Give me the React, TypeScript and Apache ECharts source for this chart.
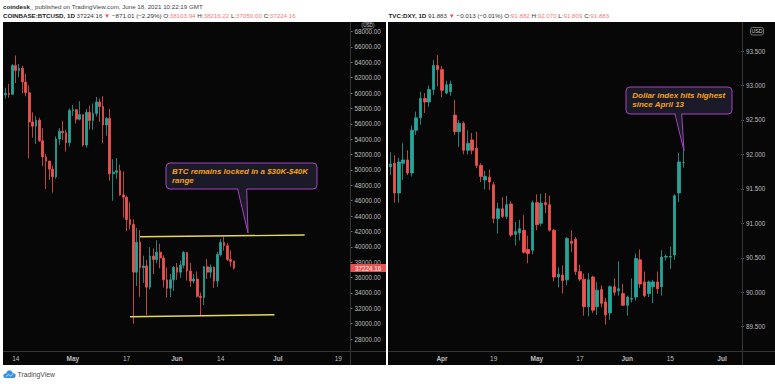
import React, { useEffect, useRef } from 'react';
import * as echarts from 'echarts';

const FONT = 'Liberation Sans, Arial, Helvetica, sans-serif';

// ---------- BTC (COINBASE:BTCUSD, 1D) Apr 11 .. Jun 18, 2021 ----------
const btcStart = '2021-04-11';
const btcOpen = [
  59770, 59970, 59840, 63580, 62950, 63230, 61450, 60050, 56250, 55700, 56480, 53800, 51700, 51150, 50100, 49100, 54030, 55040, 54850, 53570,
  57750, 57830, 56600, 57200, 53240, 57500, 56420, 57350, 58850, 58250, 55850, 56700, 49500, 49700, 49900, 46750, 46450, 43550, 42900, 36700,
  40600, 37300, 37500, 34750, 38800, 38350, 39300, 38550, 35700, 34600, 35700,
  37300, 36700, 37600, 39250, 36850, 35550, 35800, 33550, 33400, 37400, 36700, 37350, 35550, 39000, 40550, 40150, 38350, 38103.94,
];
const btcHigh = [
  60700, 61200, 63770, 64895, 63800, 63560, 62500, 61000, 57500, 57000, 56800, 55450, 52100, 51180, 50550, 54350, 55450, 56400, 55200, 58000,
  58450, 57900, 58950, 57200, 57950, 58360, 58650, 59500, 59300, 59600, 56900, 57950, 51400, 51550, 50700, 49800, 46650, 45800, 43550, 42450,
  42200, 38850, 38300, 39950, 39800, 40850, 40400, 38900, 37300, 36450, 37500,
  37900, 38200, 39450, 39300, 37900, 36450, 36800, 34050, 37500, 38400, 37700, 37450, 39350, 41000, 41300, 40500, 39550, 38216.22,
];
const btcLow = [
  59300, 59400, 59840, 61300, 62050, 60000, 59600, 51500, 54200, 53400, 53650, 50500, 47500, 48700, 47050, 48850, 53300, 53900, 52400, 53050,
  57050, 56050, 56450, 53050, 52900, 55250, 55250, 56950, 56250, 53500, 54450, 48600, 46000, 48850, 46650, 43800, 42050, 42250, 30000, 34900,
  33500, 35300, 31100, 34450, 36450, 37850, 37200, 34700, 33400, 33450, 34250,
  35700, 35950, 37200, 35600, 34800, 35250, 33400, 31000, 32400, 35800, 35950, 34650, 34800, 38750, 39500, 38150, 37400, 37050.0,
];
const btcClose = [
  59970, 59840, 63580, 62950, 63230, 61450, 60050, 56250, 55700, 56480, 53800, 51700, 51150, 50100, 49100, 54030, 55040, 54850, 53570, 57750,
  57830, 56600, 57200, 53240, 57500, 56420, 57350, 58850, 58250, 55850, 56700, 49500, 49700, 49900, 46750, 46450, 43550, 42900, 36700, 40600,
  37300, 37500, 34750, 38800, 38350, 39300, 38550, 35700, 34600, 35700, 37300,
  36700, 37600, 39250, 36850, 35550, 35800, 33550, 33400, 37400, 36700, 37350, 35550, 39000, 40550, 40150, 38350, 38100, 37224.16,
];
const btcTimeLabels: Record<string, string> = {
  '2021-04-14': '14', '2021-05-01': 'May', '2021-05-17': '17', '2021-06-01': 'Jun',
  '2021-06-14': '14', '2021-07-01': 'Jul', '2021-07-19': '19',
};
const btcRangeTop = [['2021-05-21', 41300], ['2021-07-09', 41530]];
const btcRangeBottom = [['2021-05-18', 30900], ['2021-06-30', 31160]];

// ---------- DXY (TVC:DXY, 1D) Mar 16 .. Jun 18, 2021 ----------
const dxyStart = '2021-03-16';
const dxyOpen = [
  91.82, 91.87, 91.44, 91.87, 91.92, 91.73, 92.35, 92.53, 92.81, 92.76, 92.94, 93.29,
  93.23, 92.89, 92.91, 92.57, 92.33, 92.45, 92.06, 92.21, 92.09, 91.84, 91.63, 91.67, 91.56, 91.07, 91.21, 91.10, 91.28, 90.84, 90.86, 90.90, 90.62, 90.61,
  91.30, 91.00, 91.30, 91.27, 90.90, 90.22, 90.25, 90.18, 90.74, 90.77, 90.30, 90.19, 89.79, 90.22, 89.79, 90.04, 89.86, 89.70, 90.08, 90.02, 89.98,
  89.81, 89.90, 89.93, 90.47, 90.15, 89.98, 90.08, 90.15, 90.08, 90.51, 90.51, 90.54, 91.44, 91.882,
];
const dxyHigh = [
  92.03, 91.99, 91.95, 92.16, 92.06, 92.42, 92.62, 92.91, 92.89, 93.00, 93.37, 93.44,
  93.28, 93.07, 93.07, 92.79, 92.50, 92.48, 92.35, 92.31, 92.33, 91.87, 91.76, 91.78, 91.60, 91.30, 91.38, 91.40, 91.32, 91.02, 91.05, 91.12, 90.82, 91.33,
  91.42, 91.43, 91.44, 91.40, 90.92, 90.36, 90.39, 90.80, 90.90, 90.80, 90.40, 90.27, 90.28, 90.24, 90.15, 90.10, 89.92, 90.10, 90.20, 90.45, 90.12,
  89.95, 90.20, 90.56, 90.62, 90.30, 90.17, 90.18, 90.30, 90.61, 90.55, 90.66, 91.42, 92.02, 92.07,
];
const dxyLow = [
  91.70, 91.30, 91.30, 91.63, 91.70, 91.68, 92.28, 92.43, 92.60, 92.69, 92.86, 92.99,
  92.83, 92.87, 92.85, 92.28, 92.11, 92.00, 92.00, 92.00, 91.80, 91.60, 91.49, 91.48, 91.00, 90.85, 91.08, 91.06, 90.80, 90.68, 90.75, 90.56, 90.42, 90.55,
  90.90, 90.96, 91.15, 90.88, 90.16, 90.07, 89.98, 90.10, 90.58, 90.25, 90.16, 89.66, 89.65, 89.70, 89.67, 89.78, 89.53, 89.60, 89.95, 89.95, 89.80,
  89.66, 89.85, 89.88, 90.06, 89.93, 89.93, 89.84, 89.98, 89.95, 90.46, 90.34, 90.47, 91.31, 91.809,
];
const dxyClose = [
  91.86, 91.44, 91.89, 91.92, 91.73, 92.35, 92.53, 92.81, 92.76, 92.94, 93.29, 93.23,
  92.93, 93.01, 93.02, 92.33, 92.45, 92.06, 92.16, 92.06, 91.84, 91.68, 91.68, 91.60, 91.07, 91.21, 91.10, 91.27, 90.83, 90.88, 90.92, 90.58, 90.56, 91.30,
  90.98, 91.29, 91.27, 90.90, 90.22, 90.26, 90.17, 90.78, 90.71, 90.30, 90.19, 89.79, 90.18, 89.74, 90.03, 89.84, 89.67, 90.08, 90.00, 90.05, 89.81,
  89.93, 89.91, 90.49, 90.12, 89.95, 90.15, 90.15, 90.05, 90.51, 90.52, 90.52, 91.40, 91.89, 91.883,
];
const dxyTimeLabels: Record<string, string> = {
  '2021-04-01': 'Apr', '2021-04-19': '19', '2021-05-03': 'May', '2021-05-17': '17',
  '2021-06-01': 'Jun', '2021-06-15': '15', '2021-07-01': 'Jul',
};

const MONTHS = ['Apr', 'May', 'Jun', 'Jul'];

function dayList(start: string, count: number, weekdaysOnly: boolean): string[] {
  const out: string[] = [];
  const d = new Date(start + 'T00:00:00Z');
  while (out.length < count) {
    const wd = d.getUTCDay();
    if (!weekdaysOnly || (wd !== 0 && wd !== 6)) out.push(d.toISOString().slice(0, 10));
    d.setUTCDate(d.getUTCDate() + 1);
  }
  return out;
}

const UP = '#26a69a';
const DOWN = '#ef5350';
const AXIS_TXT = '#bdbdbd';
const PANEL = '#070707';
const SEP = '#363636';
const CALLOUT_FILL = '#1b1a28';
const CALLOUT_STROKE = '#a544c0';
const CALLOUT_TEXT = '#f4a21c';

function timeAxisLabel(map: Record<string, string>, margin: number) {
  return {
    interval: (_i: number, v: string) => v in map,
    formatter: (v: string) => {
      const t = map[v] || '';
      return MONTHS.includes(t) ? `{m|${t}}` : t;
    },
    margin,
    color: AXIS_TXT,
    fontSize: 6.5,
    fontFamily: FONT,
    rich: { m: { fontSize: 6.5, fontWeight: 'bold', color: AXIS_TXT, fontFamily: FONT } },
  };
}

export default function App() {
  const ref = useRef<HTMLDivElement>(null);
  useEffect(() => {
    const el = ref.current;
    if (!el) return;
    const chart = echarts.init(el, null, { renderer: 'svg', width: 775, height: 384 });

    const btcDates = dayList(btcStart, 103, false);
    const dxyDates = dayList(dxyStart, 82, true);
    const btcData = btcOpen.map((o, i) => [o, btcClose[i], btcLow[i], btcHigh[i]]);
    const dxyData = dxyOpen.map((o, i) => [o, dxyClose[i], dxyLow[i], dxyHigh[i]]);

    const hdrBase = { fill: '#333', fontSize: 6.2, fontFamily: FONT };
    const graphics: any[] = [
      { type: 'rect', id: 'pL', z: -10, shape: { x: 3, y: 22, width: 383, height: 343 }, style: { fill: PANEL } },
      { type: 'rect', id: 'pR', z: -10, shape: { x: 388, y: 22, width: 387, height: 343 }, style: { fill: PANEL } },
      { type: 'line', z: 50, shape: { x1: 350.5, y1: 22, x2: 350.5, y2: 365 }, style: { stroke: SEP, lineWidth: 1 } },
      { type: 'line', z: 50, shape: { x1: 742.5, y1: 22, x2: 742.5, y2: 365 }, style: { stroke: SEP, lineWidth: 1 } },
      { type: 'line', z: 50, shape: { x1: 3, y1: 351.5, x2: 386, y2: 351.5 }, style: { stroke: SEP, lineWidth: 1 } },
      { type: 'line', z: 50, shape: { x1: 388, y1: 351.5, x2: 775, y2: 351.5 }, style: { stroke: SEP, lineWidth: 1 } },
      // header
      {
        type: 'text', z: 60, x: 3, y: 6,
        style: {
          text: '{b|coindesk_} {n|published on TradingView.com, June 18, 2021 10:22:19 GMT}',
          verticalAlign: 'middle', ...hdrBase,
          rich: {
            b: { ...hdrBase, fill: '#222', fontWeight: 'bold' },
            n: { ...hdrBase, fill: '#444' },
          },
        },
      },
      {
        type: 'text', z: 60, x: 3, y: 15,
        style: {
          text: '{k|COINBASE:BTCUSD, 1D} {v|37224.16} {r|▼} {v|−871.01 (−2.29%)} {v|O:}{p|38103.94} {v|H:}{p|38216.22} {v|L:}{p|37050.00} {v|C:}{p|37224.16}',
          verticalAlign: 'middle', ...hdrBase,
          rich: {
            k: { ...hdrBase, fill: '#222', fontWeight: 'bold' },
            v: { ...hdrBase, fill: '#333' },
            r: { ...hdrBase, fill: DOWN },
            p: { ...hdrBase, fill: '#f07c7c' },
          },
        },
      },
      {
        type: 'text', z: 60, x: 388.5, y: 15,
        style: {
          text: '{k|TVC:DXY, 1D} {v|91.883} {r|▼} {v|−0.013 (−0.01%)} {v|O:}{p|91.882} {v|H:}{p|92.070} {v|L:}{p|91.809} {v|C:}{p|91.883}',
          verticalAlign: 'middle', ...hdrBase,
          rich: {
            k: { ...hdrBase, fill: '#222', fontWeight: 'bold' },
            v: { ...hdrBase, fill: '#333' },
            r: { ...hdrBase, fill: DOWN },
            p: { ...hdrBase, fill: '#f07c7c' },
          },
        },
      },
      // USD boxes
      { type: 'rect', z: 70, shape: { x: 362, y: 22.6, width: 12, height: 5.8, r: 2 }, style: { fill: PANEL, stroke: '#8a8a8a', lineWidth: 0.7 } },
      { type: 'text', z: 71, x: 368, y: 25.6, style: { text: 'USD', fill: '#d0d0d0', fontSize: 4.6, fontFamily: FONT, align: 'center', verticalAlign: 'middle' } },
      { type: 'rect', z: 70, shape: { x: 750.5, y: 27.5, width: 13, height: 7.5, r: 2 }, style: { fill: PANEL, stroke: '#8a8a8a', lineWidth: 0.8 } },
      { type: 'text', z: 71, x: 757, y: 31.4, style: { text: 'USD', fill: '#d0d0d0', fontSize: 5.2, fontFamily: FONT, align: 'center', verticalAlign: 'middle' } },
      // BTC callout
      { type: 'rect', z: 80, shape: { x: 166, y: 163, width: 151, height: 26, r: 4 }, style: { fill: CALLOUT_FILL, stroke: CALLOUT_STROKE, lineWidth: 1 } },
      { type: 'polygon', z: 81, shape: { points: [[238, 188], [247, 188], [248, 233]] }, style: { fill: CALLOUT_FILL } },
      { type: 'polyline', z: 82, shape: { points: [[237.7, 189], [248, 233], [246.7, 189]] }, style: { stroke: CALLOUT_STROKE, lineWidth: 1, fill: 'none' } },
      {
        type: 'text', z: 83, x: 172, y: 167.2,
        style: { text: 'BTC remains locked in a $30K-$40K\nrange', fill: CALLOUT_TEXT, fontSize: 8, fontWeight: 'bold', fontStyle: 'italic', fontFamily: FONT, lineHeight: 8.8, verticalAlign: 'top' },
      },
      // DXY callout
      { type: 'rect', z: 80, shape: { x: 626, y: 87, width: 106, height: 27, r: 4 }, style: { fill: CALLOUT_FILL, stroke: CALLOUT_STROKE, lineWidth: 1 } },
      { type: 'polygon', z: 81, shape: { points: [[675.5, 113], [681.5, 113], [684, 151]] }, style: { fill: CALLOUT_FILL } },
      { type: 'polyline', z: 82, shape: { points: [[675, 114], [684, 151], [681.7, 114]] }, style: { stroke: CALLOUT_STROKE, lineWidth: 1, fill: 'none' } },
      {
        type: 'text', z: 83, x: 632.3, y: 91.3,
        style: { text: 'Dollar index hits highest\nsince April 13', fill: CALLOUT_TEXT, fontSize: 8, fontWeight: 'bold', fontStyle: 'italic', fontFamily: FONT, lineHeight: 8.6, verticalAlign: 'top' },
      },
      // TradingView logo
      { type: 'circle', z: 60, shape: { cx: 9.5, cy: 373.6, r: 3.3 }, style: { fill: '#3d8fe0' } },
      { type: 'circle', z: 60, shape: { cx: 13.3, cy: 375.6, r: 2.4 }, style: { fill: '#3d8fe0' } },
      { type: 'circle', z: 60, shape: { cx: 5.6, cy: 375.8, r: 2.3 }, style: { fill: '#3d8fe0' } },
      { type: 'rect', z: 60, shape: { x: 5.5, y: 375, width: 8, height: 3.1 }, style: { fill: '#3d8fe0' } },
      { type: 'polyline', z: 61, shape: { points: [[6, 376.5], [8.5, 374.5], [10.5, 376], [13, 374]] }, style: { stroke: '#ffffff', lineWidth: 0.7, fill: 'none' } },
      { type: 'text', z: 60, x: 17.5, y: 374.8, style: { text: 'TradingView', fill: '#4a4a4a', fontSize: 6.8, fontFamily: FONT, verticalAlign: 'middle' } },
    ];

    const option: any = {
      animation: false,
      backgroundColor: '#ffffff',
      grid: [
        { left: 4, top: 31.63, width: 346, height: 307.37 },
        { left: 388.15, top: 51, width: 353.3, height: 275.7 },
      ],
      xAxis: [
        {
          type: 'category', gridIndex: 0, data: btcDates, boundaryGap: true,
          axisLine: { show: false }, axisTick: { show: false }, splitLine: { show: false },
          axisLabel: timeAxisLabel(btcTimeLabels, 15.5),
        },
        {
          type: 'category', gridIndex: 1, data: dxyDates, boundaryGap: true,
          axisLine: { show: false }, axisTick: { show: false }, splitLine: { show: false },
          axisLabel: timeAxisLabel(dxyTimeLabels, 28),
        },
      ],
      yAxis: [
        {
          type: 'value', gridIndex: 0, position: 'right', min: 28000, max: 68000, interval: 2000,
          axisLine: { show: false }, splitLine: { show: false },
          axisTick: { show: true, length: 2.5, lineStyle: { color: '#8a8a8a', width: 0.8 } },
          axisLabel: { margin: 4.5, color: AXIS_TXT, fontSize: 6.3, fontFamily: FONT, formatter: (v: number) => v.toFixed(2) },
        },
        {
          type: 'value', gridIndex: 1, position: 'right', min: 89.5, max: 93.5, interval: 0.5,
          axisLine: { show: false }, splitLine: { show: false },
          axisTick: { show: true, length: 2.5, lineStyle: { color: '#8a8a8a', width: 0.8 } },
          axisLabel: { margin: 4.5, color: AXIS_TXT, fontSize: 6.3, fontFamily: FONT, formatter: (v: number) => v.toFixed(3) },
        },
      ],
      series: [
        {
          type: 'candlestick', xAxisIndex: 0, yAxisIndex: 0, data: btcData, barWidth: 2.2,
          itemStyle: { color: UP, color0: DOWN, borderColor: UP, borderColor0: DOWN, borderWidth: 0.8 },
          markLine: {
            silent: true, symbol: ['none', 'none'], animation: false,
            label: { show: false },
            lineStyle: { color: '#e8d85a', width: 1.4, type: 'solid' },
            emphasis: { disabled: true },
            data: [
              [{ coord: btcRangeTop[0] }, { coord: btcRangeTop[1] }],
              [{ coord: btcRangeBottom[0] }, { coord: btcRangeBottom[1] }],
            ],
          },
        },
        {
          type: 'candlestick', xAxisIndex: 1, yAxisIndex: 1, data: dxyData, barWidth: 3,
          itemStyle: { color: UP, color0: DOWN, borderColor: UP, borderColor0: DOWN, borderWidth: 0.8 },
        },
      ],
      graphic: { elements: graphics },
    };

    chart.setOption(option);

    const lastClose = btcClose[btcClose.length - 1];
    const py = chart.convertToPixel({ yAxisIndex: 0 }, lastClose) as number;
    chart.setOption({
      graphic: {
        elements: [
          { type: 'rect', id: 'priceRect', z: 90, shape: { x: 350.5, y: py - 4, width: 35.5, height: 8 }, style: { fill: '#e8524f' } },
          { type: 'text', id: 'priceText', z: 91, x: 368.2, y: py, style: { text: lastClose.toFixed(2), fill: '#ffffff', fontSize: 6.3, fontFamily: FONT, align: 'center', verticalAlign: 'middle' } },
        ],
      },
    });

    return () => chart.dispose();
  }, []);

  return (
    <div
      ref={ref}
      style={{ position: 'absolute', left: 0, top: 0, width: 775, height: 384, background: '#ffffff' }}
    />
  );
}
